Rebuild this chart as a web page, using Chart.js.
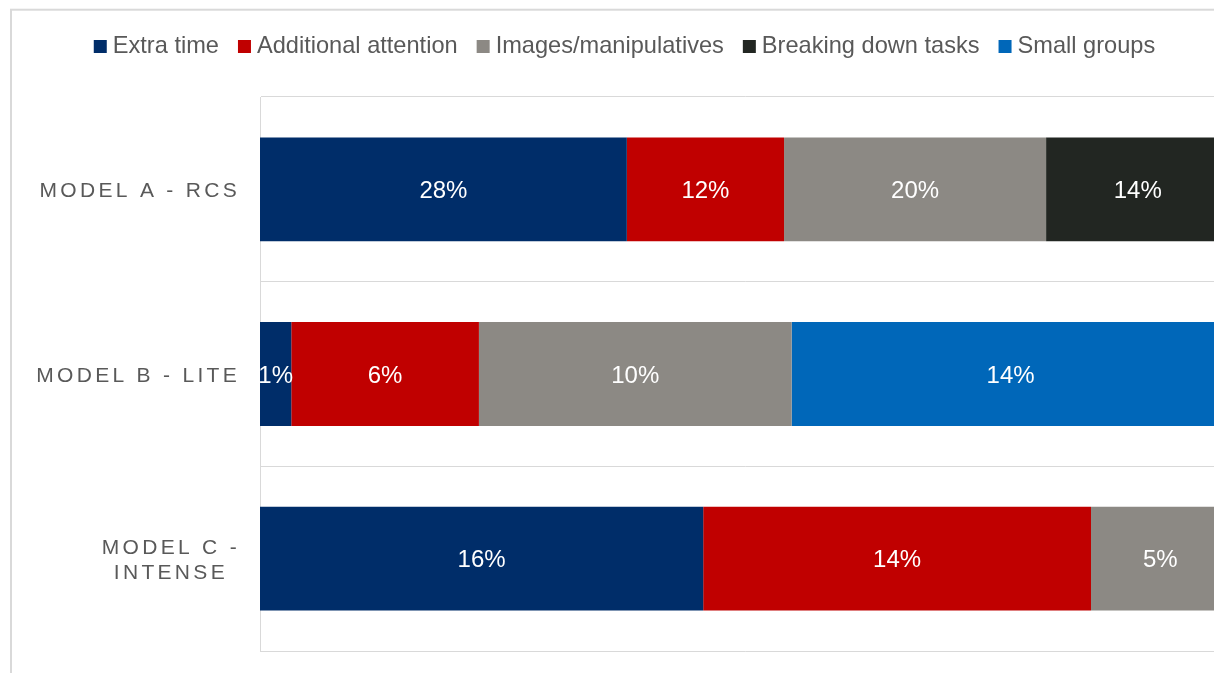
<!DOCTYPE html>
<html>
<head>
<meta charset="utf-8">
<title>Support strategies by model</title>
<script src="https://cdn.jsdelivr.net/npm/chart.js@4.4.1/dist/chart.umd.min.js"></script>
<style>
  html, body { margin: 0; padding: 0; background: #fff; overflow: hidden; }
  #wrap { width: 1214px; height: 673px; overflow: hidden; }
  canvas { display: block; }
</style>
</head>
<body>
<div id="wrap"><canvas id="chart" width="1240" height="673"></canvas></div>
<script>
(() => {
  'use strict';

  // ── Data ──────────────────────────────────────────────────
  const categories = [['MODEL A - RCS'], ['MODEL B - LITE'], ['MODEL C -', 'INTENSE']];
  const seriesNames = ['Extra time', 'Additional attention', 'Images/manipulatives', 'Breaking down tasks', 'Small groups'];

  const extraTime = [28, 1, 16];
  const additionalAttention = [12, 6, 14];
  const imagesManipulatives = [20, 10, 5];
  const breakingDownTasks = [14, 0, 0];
  const smallGroups = [0, 14, 0];

  const seriesValues = [extraTime, additionalAttention, imagesManipulatives, breakingDownTasks, smallGroups];
  const seriesColors = ['#002d69', '#c00000', '#8c8984', '#222622', '#0067b9'];

  const FONT = '"Liberation Sans", Arial, sans-serif';
  const TEXT = '#595959';
  const LINE = '#d9d9d9';

  // every row is stacked to 100% of its own total
  const rowTotals = categories.map((_, i) => seriesValues.reduce((s, arr) => s + arr[i], 0));
  const toShare = arr => arr.map((v, i) => v / rowTotals[i] * 100);

  // ── Plugins ───────────────────────────────────────────────
  const frame = {
    id: 'frame',
    beforeDraw(chart) {
      const { ctx } = chart;
      ctx.save();
      ctx.strokeStyle = LINE;
      ctx.lineWidth = 2;
      ctx.strokeRect(11, 9.7, 1400, 800);
      ctx.restore();
    },
  };

  const legendRow = {
    id: 'legendRow',
    afterDraw(chart) {
      const { ctx } = chart;
      const box = 13, boxGap = 6, itemGap = 19, centerX = 624.5;
      ctx.save();
      ctx.font = `23.6px ${FONT}`;
      ctx.textBaseline = 'alphabetic';
      ctx.textAlign = 'left';
      const widths = seriesNames.map(n => ctx.measureText(n).width);
      const total = widths.reduce((s, w) => s + box + boxGap + w, 0) + itemGap * (seriesNames.length - 1);
      let x = centerX - total / 2;
      seriesNames.forEach((name, i) => {
        ctx.fillStyle = seriesColors[i];
        ctx.fillRect(x, 40, box, box);
        ctx.fillStyle = TEXT;
        ctx.fillText(name, x + box + boxGap, 53);
        x += box + boxGap + widths[i] + itemGap;
      });
      ctx.restore();
    },
  };

  const categoryLabels = {
    id: 'categoryLabels',
    afterDraw(chart) {
      const { ctx } = chart;
      const yScale = chart.scales.y;
      const lineH = 25, right = 240;
      ctx.save();
      ctx.font = `21px ${FONT}`;
      ctx.letterSpacing = '3.3px';
      ctx.fillStyle = TEXT;
      ctx.textAlign = 'left';
      ctx.textBaseline = 'alphabetic';
      categories.forEach((lines, i) => {
        const yc = yScale.getPixelForValue(i);
        const widths = lines.map(l => ctx.measureText(l).width);
        const blockW = Math.max(...widths);
        const first = yc - (lines.length - 1) * lineH / 2 + 7.5;
        lines.forEach((l, j) => {
          ctx.fillText(l, right - blockW + (blockW - widths[j]) / 2, first + j * lineH);
        });
      });
      ctx.restore();
    },
  };

  const valueLabels = {
    id: 'valueLabels',
    afterDatasetsDraw(chart) {
      const { ctx } = chart;
      ctx.save();
      ctx.font = `24px ${FONT}`;
      ctx.fillStyle = '#ffffff';
      ctx.textAlign = 'center';
      ctx.textBaseline = 'alphabetic';
      chart.data.datasets.forEach((ds, di) => {
        chart.getDatasetMeta(di).data.forEach((bar, i) => {
          const v = seriesValues[di][i];
          if (!v) return;
          const { x, base, y } = bar.getProps(['x', 'base', 'y'], true);
          ctx.fillText(`${v}%`, (x + base) / 2, y + 8.6);
        });
      });
      ctx.restore();
    },
  };

  // ── Chart ─────────────────────────────────────────────────
  new Chart(document.getElementById('chart'), {
    type: 'bar',
    data: {
      labels: categories,
      datasets: seriesNames.map((name, i) => ({
        label: name,
        data: toShare(seriesValues[i]),
        backgroundColor: seriesColors[i],
        borderWidth: 0,
        categoryPercentage: 1,
        barPercentage: 0.562,
      })),
    },
    options: {
      indexAxis: 'y',
      responsive: false,
      animation: false,
      devicePixelRatio: 1,
      layout: { padding: { top: 97, bottom: 22, left: 0, right: 10.5 } },
      plugins: {
        legend: { display: false },
        tooltip: { enabled: false },
      },
      scales: {
        x: { display: false, stacked: true, min: 0, max: 100 },
        y: {
          stacked: true,
          grid: { color: LINE, lineWidth: 1, offset: true, drawTicks: false },
          border: { display: true, color: LINE, width: 1 },
          ticks: { display: false },
          afterFit: scale => { scale.width = 260; },
        },
      },
    },
    plugins: [frame, legendRow, categoryLabels, valueLabels],
  });
})();
</script>
</body>
</html>
